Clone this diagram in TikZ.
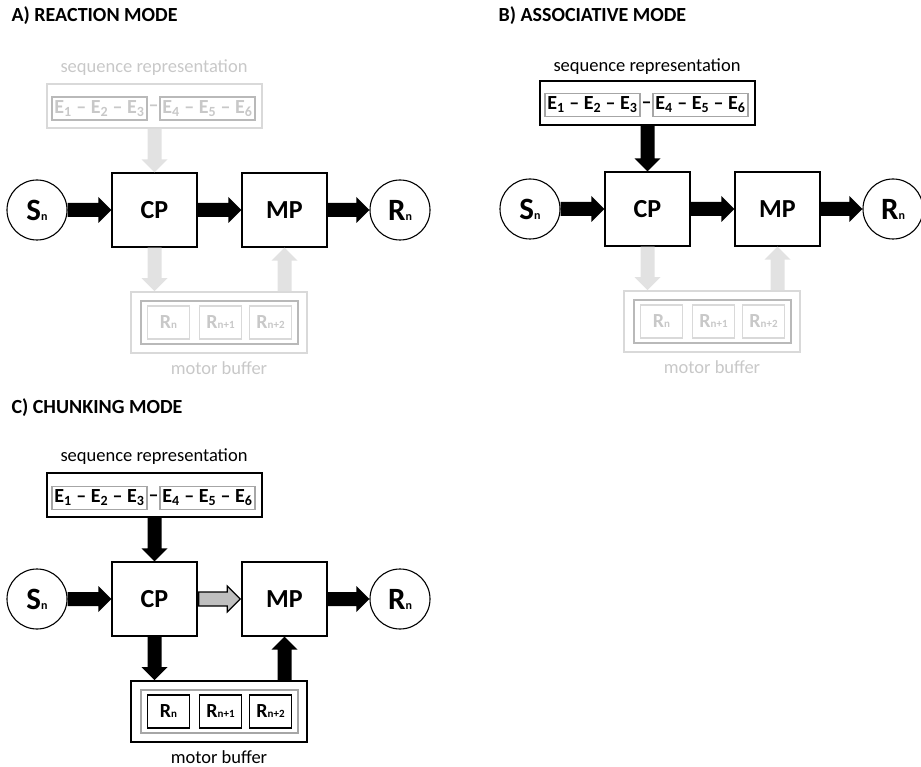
\documentclass[tikz,border=0pt]{standalone}
\usepackage{fontspec}
\setmainfont{Carlito}
\usetikzlibrary{calc}

\definecolor{fadeline}{RGB}{217,217,217}
\definecolor{fadetext}{RGB}{200,200,200}
\definecolor{fadegray}{RGB}{185,185,185}
\definecolor{fadearrow}{RGB}{226,226,226}
\definecolor{midgray}{RGB}{166,166,166}
\definecolor{arrowgray}{RGB}{191,191,191}

\newcommand{\lowsub}[2][11]{{\fontsize{#1}{#1}\selectfont #2}}

\tikzset{
  title/.style={anchor=west, font=\bfseries\fontsize{20}{20}\selectfont},
  lbl/.style={font=\fontsize{18.5}{18.5}\selectfont},
  proc/.style={draw, line width=1.4pt, minimum width=85pt, minimum height=74pt, font=\bfseries\fontsize{26}{26}\selectfont},
  stim/.style={draw, circle, line width=1.1pt, minimum size=60pt, inner sep=0pt, font=\bfseries\fontsize{31}{31}\selectfont},
  seqouter/.style={draw, line width=1.8pt, minimum width=215pt, minimum height=44pt},
  seqinner/.style={draw=midgray, line width=1.2pt, minimum width=95pt, minimum height=23pt, inner sep=0pt, font=\bfseries\fontsize{20}{20}\selectfont},
  seqdash/.style={inner sep=0pt, font=\bfseries\fontsize{20}{20}\selectfont},
  bufouter/.style={draw, line width=1.8pt, minimum width=176pt, minimum height=61pt},
  bufmid/.style={draw=midgray, line width=2pt, minimum width=157pt, minimum height=43pt},
  bufitem/.style={draw, line width=1.4pt, minimum width=42pt, minimum height=33pt, inner sep=0pt, font=\bfseries\fontsize{20}{20}\selectfont},
  % block arrow from start to target (shaft 14pt, head 26pt x 13pt)
  fat/.style={to path={
    let \p1=(\tikztostart), \p2=(\tikztotarget),
        \n1={atan2(\y2-\y1,\x2-\x1)}, \n2={veclen(\x2-\x1,\y2-\y1)-13pt} in
    (\p1) ++(\n1+90:7pt) -- ++(\n1:\n2) -- ++(\n1+90:6pt) -- (\p2)
    -- ++(\n1+225:18.385pt) -- ++(\n1+90:6pt) -- ++(\n1+180:\n2) -- cycle}}
}

\begin{document}
\begin{tikzpicture}[x=1pt,y=-1pt]
  \useasboundingbox (0,0) rectangle (921,767);

  % Titles
  \node[title] (titleA) at (8,16) {A) REACTION MODE};
  \node[title] (titleB) at (495,16) {B) ASSOCIATIVE MODE};
  \node[title] (titleC) at (8,408) {C) CHUNKING MODE};

  % A) reaction mode: sequence and buffer faded
  \node[lbl, text=fadetext] (seqlblA) at (154,68) {sequence representation};
  \node[seqouter, draw=fadeline] (seqA) at (154.5,106) {};
  \node[seqinner, draw=fadegray, text=fadetext] (eaA) at (99.5,108.5) {E\textsubscript{1} -- E\textsubscript{2} -- E\textsubscript{3}};
  \node[seqinner, draw=fadegray, text=fadetext] (ebA) at (207.5,108.5) {E\textsubscript{4} -- E\textsubscript{5} -- E\textsubscript{6}};
  \node[seqdash, text=fadetext] (dashA) at ($(eaA.east)!0.5!(ebA.west)$) {--};

  \node[stim] (snA) at (37,210) {S\lowsub[12]{n}};
  \node[proc] (cpA) at (154.5,210) {CP};
  \node[proc] (mpA) at (284.5,210) {MP};
  \node[stim] (rnA) at (400,210) {R\lowsub[12]{n}};

  \node[bufouter, draw=fadeline] (bufA) at (219,322.5) {};
  \node[bufmid, draw=fadegray] (midA) at (219.5,322.5) {};
  \node[bufitem, draw=fadeline, text=fadetext] (r0A) at (168.5,322.5) {R\lowsub{n}};
  \node[bufitem, draw=fadeline, text=fadetext] (r1A) at (220.5,322.5) {R\lowsub{n+1}};
  \node[bufitem, draw=fadeline, text=fadetext] (r2A) at (270.5,322.5) {R\lowsub{n+2}};
  \node[lbl, text=fadetext] (buflblA) at (219,368) {motor buffer};

  \fill[fadearrow] (seqA.south) to[fat] (cpA.north);
  \fill (snA.east) to[fat] (cpA.west);
  \fill (cpA.east) to[fat] (mpA.west);
  \fill (mpA.east) to[fat] (rnA.west);
  \fill[fadearrow] (cpA.south) to[fat] (cpA.south |- bufA.north);
  \fill[fadearrow] (bufA.north -| mpA.south) to[fat] (mpA.south);

  % B) associative mode: buffer faded
  \node[lbl] (seqlblB) at (647,67) {sequence representation};
  \node[seqouter] (seqB) at (647.5,103) {};
  \node[seqinner] (eaB) at (592.5,105) {E\textsubscript{1} -- E\textsubscript{2} -- E\textsubscript{3}};
  \node[seqinner] (ebB) at (700.5,105) {E\textsubscript{4} -- E\textsubscript{5} -- E\textsubscript{6}};
  \node[seqdash] (dashB) at ($(eaB.east)!0.5!(ebB.west)$) {--};

  \node[stim] (snB) at (530,209) {S\lowsub[12]{n}};
  \node[proc] (cpB) at (647.5,209) {CP};
  \node[proc] (mpB) at (777.5,209) {MP};
  \node[stim] (rnB) at (893,209) {R\lowsub[12]{n}};

  \node[bufouter, draw=fadeline] (bufB) at (712,321.5) {};
  \node[bufmid, draw=fadegray] (midB) at (712.5,321.5) {};
  \node[bufitem, draw=fadeline, text=fadetext] (r0B) at (661.5,321.5) {R\lowsub{n}};
  \node[bufitem, draw=fadeline, text=fadetext] (r1B) at (713.5,321.5) {R\lowsub{n+1}};
  \node[bufitem, draw=fadeline, text=fadetext] (r2B) at (763.5,321.5) {R\lowsub{n+2}};
  \node[lbl, text=fadetext] (buflblB) at (712,367) {motor buffer};

  \fill (seqB.south) to[fat] (cpB.north);
  \fill (snB.east) to[fat] (cpB.west);
  \fill (cpB.east) to[fat] (mpB.west);
  \fill (mpB.east) to[fat] (rnB.west);
  \fill[fadearrow] (cpB.south) to[fat] (cpB.south |- bufB.north);
  \fill[fadearrow] (bufB.north -| mpB.south) to[fat] (mpB.south);

  % C) chunking mode: everything active
  \node[lbl] (seqlblC) at (154,457) {sequence representation};
  \node[seqouter] (seqC) at (154.5,495) {};
  \node[seqinner] (eaC) at (99.5,498) {E\textsubscript{1} -- E\textsubscript{2} -- E\textsubscript{3}};
  \node[seqinner] (ebC) at (207.5,498) {E\textsubscript{4} -- E\textsubscript{5} -- E\textsubscript{6}};
  \node[seqdash] (dashC) at ($(eaC.east)!0.5!(ebC.west)$) {--};

  \node[stim] (snC) at (37,599) {S\lowsub[12]{n}};
  \node[proc] (cpC) at (154.5,599) {CP};
  \node[proc] (mpC) at (284.5,599) {MP};
  \node[stim] (rnC) at (400,599) {R\lowsub[12]{n}};

  \node[bufouter] (bufC) at (219,711.5) {};
  \node[bufmid] (midC) at (219.5,711.5) {};
  \node[bufitem] (r0C) at (168.5,711.5) {R\lowsub{n}};
  \node[bufitem] (r1C) at (220.5,711.5) {R\lowsub{n+1}};
  \node[bufitem] (r2C) at (270.5,711.5) {R\lowsub{n+2}};
  \node[lbl] (buflblC) at (219,757) {motor buffer};

  \fill (seqC.south) to[fat] (cpC.north);
  \fill (snC.east) to[fat] (cpC.west);
  \draw[line width=1.2pt, fill=arrowgray, line join=miter] ($(cpC.east)+(1pt,0)$) to[fat] ($(mpC.west)+(-1pt,0)$);
  \fill (mpC.east) to[fat] (rnC.west);
  \fill (cpC.south) to[fat] (cpC.south |- bufC.north);
  \fill (bufC.north -| mpC.south) to[fat] (mpC.south);
\end{tikzpicture}
\end{document}
